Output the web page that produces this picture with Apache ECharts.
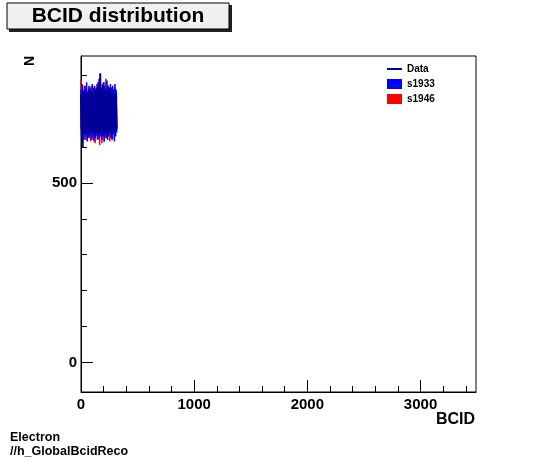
<!DOCTYPE html>
<html>
<head>
<meta charset="utf-8">
<script src="https://cdn.jsdelivr.net/npm/echarts@6/dist/echarts.min.js"></script>
<style>
  html, body { margin: 0; padding: 0; background: #fff; }
  #chart { width: 546px; height: 462px; }
</style>
</head>
<body>
<div id="chart"></div>
<script>
  // BCID bins (left edge of each group of bunch crossings)
  var bcid = [0, 5, 10, 15, 20, 25, 30, 35, 40, 45, 50, 55, 60, 65, 70, 75,
              80, 85, 90, 95, 100, 105, 110, 115, 120, 125, 130, 135, 140, 145, 150, 155,
              160, 165, 170, 175, 180, 185, 190, 195, 200, 205, 210, 215, 220, 225, 230, 235,
              240, 245, 250, 255, 260, 265, 270, 275, 280, 285, 290, 295, 300, 305, 310, 315];

  var s1946 = [785, 640, 770, 615, 760, 650, 745, 630, 770, 620, 755, 640, 735, 625, 760, 650,
               745, 615, 770, 635, 750, 620, 765, 640, 740, 610, 760, 630, 775, 645, 750, 620,
               765, 605, 780, 630, 755, 610, 770, 640, 745, 615, 760, 625, 790, 640, 755, 620,
               770, 635, 750, 615, 765, 630, 745, 620, 760, 640, 750, 625, 765, 630, 740, 650];

  var s1933 = [760, 630, 775, 625, 755, 640, 770, 620, 760, 635, 780, 615, 750, 630, 770, 625,
               765, 640, 760, 620, 775, 630, 755, 615, 770, 625, 760, 640, 765, 620, 780, 630,
               790, 625, 770, 635, 760, 620, 775, 630, 765, 615, 770, 640, 760, 625, 785, 620,
               770, 630, 760, 640, 775, 625, 765, 620, 770, 635, 760, 615, 775, 630, 760, 640];

  var dataN = [745, 650, 755, 600, 740, 645, 750, 640, 735, 635, 755, 645, 745, 640, 760, 650,
               740, 635, 755, 645, 750, 645, 745, 640, 765, 635, 755, 645, 750, 635, 770, 645,
               745, 640, 805, 645, 750, 635, 765, 645, 780, 640, 755, 635, 750, 650, 760, 630,
               745, 645, 765, 640, 740, 645, 755, 635, 750, 650, 745, 645, 740, 645, 750, 650];

  var xMajor = [0, 1000, 2000, 3000];
  var xMinor = [200, 400, 600, 800, 1200, 1400, 1600, 1800, 2200, 2400, 2600, 2800, 3200, 3400];
  var yMajor = [0, 500];
  var yMinor = [100, 200, 300, 400, 600, 700, 800];

  function pairs(vals) {
    var out = [];
    for (var i = 0; i < vals.length; i++) out.push([bcid[i], vals[i]]);
    return out;
  }

  var font = '"Liberation Sans", Arial, Helvetica, sans-serif';
  var chart = echarts.init(document.getElementById('chart'), null, {renderer: 'canvas'});

  var option = {
    animation: false,
    backgroundColor: '#fff',
    grid: {
      left: 81, right: 70, top: 56, bottom: 70,
      show: true, borderColor: '#000', borderWidth: 1, backgroundColor: 'transparent'
    },
    legend: {
      orient: 'vertical',
      left: 382, top: 59,
      itemWidth: 15, itemHeight: 10, itemGap: 5,
      textStyle: {fontFamily: font, fontWeight: 'bold', fontSize: 10, color: '#000'},
      data: [
        {name: 'Data', icon: 'path://M0,0h0.01v0.01h-0.01z M0,4h15v2h-15z M0,10h0.01v0.01h-0.01z', itemStyle: {color: '#000099'}},
        {name: 's1933', icon: 'rect'},
        {name: 's1946', icon: 'rect'}
      ]
    },
    xAxis: [
      {
        type: 'value', min: 0, max: 3490,
        axisLine: {show: true, onZero: false, lineStyle: {color: '#000'}},
        axisTick: {show: true, inside: true, length: 12, customValues: xMajor, lineStyle: {color: '#000'}},
        axisLabel: {customValues: xMajor, margin: 5, color: '#000', fontFamily: font, fontWeight: 'bold', fontSize: 15,
                    formatter: function (v) { return String(v); }},
        splitLine: {show: false}
      },
      {
        type: 'value', min: 0, max: 3490, position: 'bottom',
        axisLine: {show: false, onZero: false},
        axisTick: {show: true, inside: true, length: 6, customValues: xMinor, lineStyle: {color: '#000'}},
        axisLabel: {show: false},
        splitLine: {show: false}
      }
    ],
    yAxis: [
      {
        type: 'value', min: -82, max: 853, position: 'left',
        axisLine: {show: true, onZero: false, lineStyle: {color: '#000'}},
        axisTick: {show: true, inside: true, length: 12, customValues: yMajor, lineStyle: {color: '#000'}},
        axisLabel: {customValues: yMajor, margin: 4, color: '#000', fontFamily: font, fontWeight: 'bold', fontSize: 15},
        splitLine: {show: false}
      },
      {
        type: 'value', min: -82, max: 853, position: 'left', offset: 0,
        axisLine: {show: false, onZero: false},
        axisTick: {show: true, inside: true, length: 6, customValues: yMinor, lineStyle: {color: '#000'}},
        axisLabel: {show: false},
        splitLine: {show: false}
      }
    ],
    series: [
      {
        name: 's1946', type: 'line', step: 'end', symbol: 'none',
        color: '#ff0000', lineStyle: {width: 1.5, color: '#ff0000'},
        data: pairs(s1946), z: 2
      },
      {
        name: 's1933', type: 'line', step: 'end', symbol: 'none',
        color: '#0000ff', lineStyle: {width: 1.5, color: '#0000ff'},
        data: pairs(s1933), z: 3
      },
      {
        name: 'Data', type: 'line', step: 'end', symbol: 'none',
        color: '#000099', lineStyle: {width: 2, color: '#000099'},
        data: pairs(dataN), z: 4
      }
    ],
    graphic: [
      // title pave with shadow
      {type: 'rect', shape: {x: 9, y: 5, width: 223, height: 27}, style: {fill: '#222'}, z: 10},
      {type: 'rect', shape: {x: 7, y: 3, width: 222, height: 26}, style: {fill: '#f0f0f0', stroke: '#000', lineWidth: 1}, z: 11},
      {type: 'text', x: 118, y: 16, z: 12,
       style: {text: 'BCID distribution', font: 'bold 21px ' + font, fill: '#000', align: 'center', verticalAlign: 'middle'}},
      // axis titles
      {type: 'text', x: 30, y: 61, rotation: Math.PI / 2, z: 12,
       style: {text: 'N', font: 'bold 14px ' + font, fill: '#000', align: 'center', verticalAlign: 'middle'}},
      {type: 'text', x: 475, y: 420, z: 12,
       style: {text: 'BCID', font: 'bold 16px ' + font, fill: '#000', align: 'right', verticalAlign: 'middle'}},
      // bottom-left info
      {type: 'text', x: 10, y: 438, z: 12,
       style: {text: 'Electron', font: 'bold 12.5px ' + font, fill: '#000', align: 'left', verticalAlign: 'middle'}},
      {type: 'text', x: 10, y: 452, z: 12,
       style: {text: '//h_GlobalBcidReco', font: 'bold 12.5px ' + font, fill: '#000', align: 'left', verticalAlign: 'middle'}}
    ]
  };

  chart.setOption(option);
</script>
</body>
</html>
